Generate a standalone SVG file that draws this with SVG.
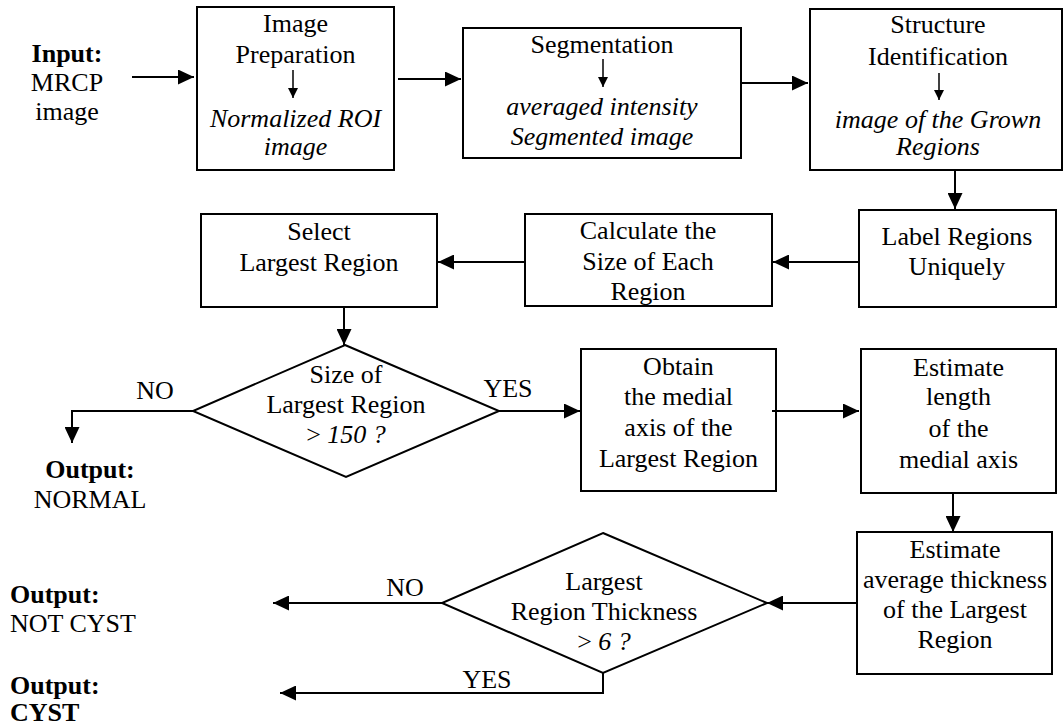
<svg xmlns="http://www.w3.org/2000/svg" width="1064" height="726" viewBox="0 0 1064 726" font-family="Liberation Serif, serif">
<style>
text{font-family:'Liberation Serif',serif;font-size:26px;fill:#000}
.c{text-anchor:middle}
.i{font-style:italic}
.b{font-weight:bold}
.box{fill:#fff;stroke:#000;stroke-width:2}
.ln{fill:none;stroke:#000;stroke-width:2}
.sm{fill:none;stroke:#000;stroke-width:1.5}
</style>
<defs>
<marker id="ah" markerUnits="userSpaceOnUse" markerWidth="16" markerHeight="15" refX="16" refY="7.5" orient="auto"><path d="M0,0 L16,7.5 L0,15 z" fill="#000"/></marker>
<marker id="as" markerUnits="userSpaceOnUse" markerWidth="10" markerHeight="10" refX="10" refY="5" orient="auto"><path d="M0,0 L10,5 L0,10 z" fill="#000"/></marker>
</defs>
<rect width="1064" height="726" fill="#fff"/>

<g id="input">
<text class="c b" x="67" y="62">Input:</text>
<text class="c" x="67" y="91">MRCP</text>
<text class="c" x="67" y="120">image</text>
</g>

<g id="prep">
<rect class="box" x="197" y="7" width="197" height="163"/>
<text class="c" x="295.5" y="32">Image</text>
<text class="c" x="295.5" y="63">Preparation</text>
<line class="sm" x1="293" y1="70" x2="293" y2="98" marker-end="url(#as)"/>
<text class="c i" x="295.5" y="127">Normalized ROI</text>
<text class="c i" x="295.5" y="155">image</text>
</g>

<g id="seg">
<rect class="box" x="463" y="28" width="278" height="130"/>
<text class="c" x="602" y="53">Segmentation</text>
<line class="sm" x1="603" y1="59" x2="603" y2="87" marker-end="url(#as)"/>
<text class="c i" x="602" y="115">averaged intensity</text>
<text class="c i" x="602" y="145">Segmented image</text>
</g>

<g id="struct">
<rect class="box" x="810" y="9" width="252" height="161"/>
<text class="c" x="938" y="33">Structure</text>
<text class="c" x="938" y="65">Identification</text>
<line class="sm" x1="939" y1="73" x2="939" y2="100" marker-end="url(#as)"/>
<text class="c i" x="938" y="128">image of the Grown</text>
<text class="c i" x="938" y="155">Regions</text>
</g>

<g id="label">
<rect class="box" x="859" y="210" width="197" height="97"/>
<text class="c" x="957" y="245">Label Regions</text>
<text class="c" x="957" y="275">Uniquely</text>
</g>

<g id="calc">
<rect class="box" x="525" y="214" width="247" height="92"/>
<text class="c" x="648" y="239">Calculate the</text>
<text class="c" x="648" y="270">Size of Each</text>
<text class="c" x="648" y="300">Region</text>
</g>

<g id="select">
<rect class="box" x="201" y="214" width="236" height="93"/>
<text class="c" x="319" y="240">Select</text>
<text class="c" x="319" y="271">Largest Region</text>
</g>

<g id="dec1">
<polygon class="box" points="345,345 499,411 346,477 193,411"/>
<text class="c" x="346" y="383">Size of</text>
<text class="c" x="346" y="413">Largest Region</text>
<text class="c" x="346" y="443">&gt; <tspan class="i">150 ?</tspan></text>
</g>

<g id="normal">
<text class="c b" x="90" y="478">Output:</text>
<text class="c" x="90" y="508">NORMAL</text>
</g>

<g id="obtain">
<rect class="box" x="581" y="349" width="195" height="142"/>
<text class="c" x="678.5" y="375">Obtain</text>
<text class="c" x="678.5" y="405">the medial</text>
<text class="c" x="678.5" y="436">axis of the</text>
<text class="c" x="678.5" y="467">Largest Region</text>
</g>

<g id="length">
<rect class="box" x="861" y="349" width="195" height="144"/>
<text class="c" x="958.5" y="376">Estimate</text>
<text class="c" x="958.5" y="405">length</text>
<text class="c" x="958.5" y="437">of the</text>
<text class="c" x="958.5" y="468">medial axis</text>
</g>

<g id="thick">
<rect class="box" x="857" y="532" width="195" height="142"/>
<text class="c" x="955" y="558">Estimate</text>
<text class="c" x="955" y="588">average thickness</text>
<text class="c" x="955" y="618">of the Largest</text>
<text class="c" x="955" y="648">Region</text>
</g>

<g id="dec2">
<polygon class="box" points="603,533 767,603 603,673 442,603"/>
<text class="c" x="604" y="590">Largest</text>
<text class="c" x="604" y="620">Region Thickness</text>
<text class="c" x="604" y="650">&gt; <tspan class="i">6 ?</tspan></text>
</g>

<g id="notcyst">
<text class="b" x="10" y="603">Output:</text>
<text x="10" y="632">NOT CYST</text>
</g>

<g id="cyst">
<text class="b" x="10" y="694">Output:</text>
<text class="b" x="10" y="721">CYST</text>
</g>

<g id="connectors">
<line class="ln" x1="132" y1="77" x2="194" y2="77" marker-end="url(#ah)"/>
<line class="ln" x1="398" y1="79" x2="461" y2="79" marker-end="url(#ah)"/>
<line class="ln" x1="741" y1="83" x2="808" y2="83" marker-end="url(#ah)"/>
<line class="ln" x1="955" y1="170" x2="955" y2="209" marker-end="url(#ah)"/>
<line class="ln" x1="859" y1="262" x2="773" y2="262" marker-end="url(#ah)"/>
<line class="ln" x1="525" y1="262" x2="438" y2="262" marker-end="url(#ah)"/>
<line class="ln" x1="344" y1="307" x2="344" y2="345" marker-end="url(#ah)"/>
<polyline class="ln" points="193,411 72,411 72,443" marker-end="url(#ah)"/>
<text class="c" x="155" y="399">NO</text>
<line class="ln" x1="499" y1="411" x2="580" y2="411" marker-end="url(#ah)"/>
<text class="c" x="508" y="397">YES</text>
<line class="ln" x1="772" y1="411" x2="859" y2="411" marker-end="url(#ah)"/>
<line class="ln" x1="953" y1="493" x2="953" y2="532" marker-end="url(#ah)"/>
<line class="ln" x1="857" y1="603" x2="767" y2="603" marker-end="url(#ah)"/>
<line class="ln" x1="442" y1="603" x2="273" y2="603" marker-end="url(#ah)"/>
<text class="c" x="405" y="596">NO</text>
<polyline class="ln" points="603,673 603,693 280,693" marker-end="url(#ah)"/>
<text class="c" x="487" y="688">YES</text>
</g>
</svg>
